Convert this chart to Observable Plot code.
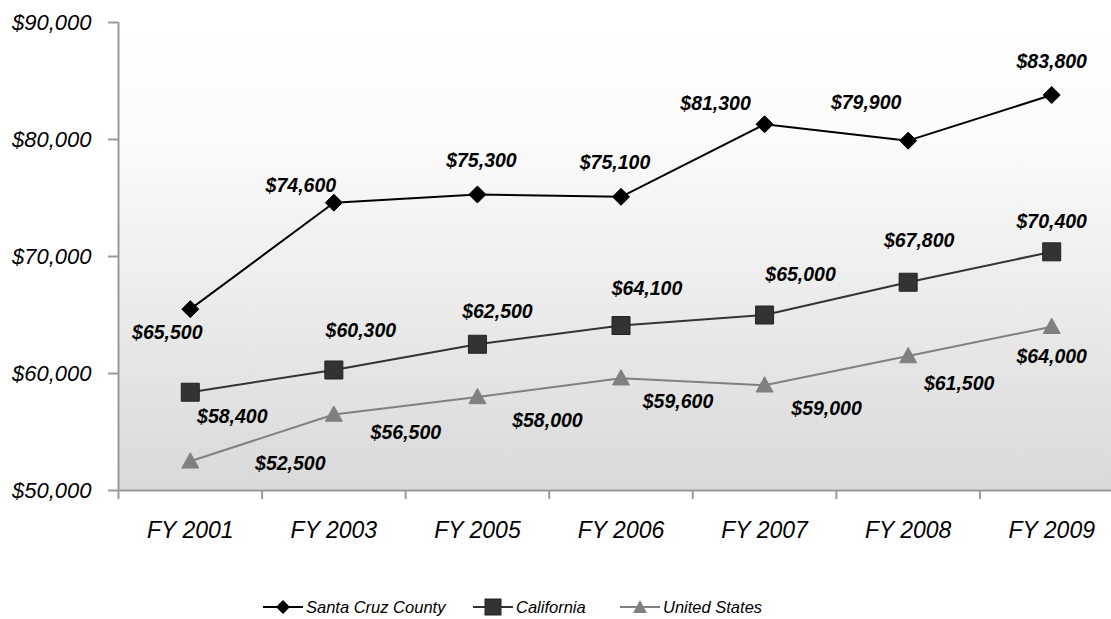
<!DOCTYPE html>
<html><head><meta charset="utf-8">
<script src="https://cdn.jsdelivr.net/npm/d3@7"></script>
<script src="https://cdn.jsdelivr.net/npm/@observablehq/plot@0.6"></script>
<style>
body{margin:0;background:#fff;font-family:"Liberation Sans",Arial,sans-serif;position:relative;width:1111px;height:619px;overflow:hidden;}
#chart{position:absolute;left:0;top:0;}
.lg{position:absolute;top:596px;height:22px;display:flex;align-items:center;font-style:italic;font-size:16.5px;color:#000;}
.lg svg{margin-right:3px;}
</style></head><body><div id="chart"></div><div id="legend"></div>
<script>
// ---- data ----
const years = ["FY 2001", "FY 2003", "FY 2005", "FY 2006", "FY 2007", "FY 2008", "FY 2009"];
const santaCruz = [65500, 74600, 75300, 75100, 81300, 79900, 83800];
const california = [58400, 60300, 62500, 64100, 65000, 67800, 70400];
const unitedStates = [52500, 56500, 58000, 59600, 59000, 61500, 64000];
const seriesNames = ["Santa Cruz County", "California", "United States"];
const yTicks = [50000, 60000, 70000, 80000, 90000];

// ---- label placement (style) ----
const labelDx = [
  [-23, -33, 4, -6, -49, -42, 0],
  [42, 27, 20, 26, 36, 11, 0],
  [100, 72, 70, 57, 62, 51, 0]
];
const labelDy = [
  [24, -17, -34, -34, -21, -38, -33],
  [25, -39, -33, -37, -40, -41, -30],
  [2, 18, 24, 24, 24, 28, 30]
];
const colors = ["#000000", "#333333", "#808080"];
const outlines = ["#000000", "#222222", "#808080"];

// custom symbols
const diamondSym = {draw(c, size) { const h = Math.sqrt(size / Math.PI); c.moveTo(0, -h); c.lineTo(h, 0); c.lineTo(0, h); c.lineTo(-h, 0); c.closePath(); }};
const squareSym = {draw(c, size) { const h = Math.sqrt(size / Math.PI); c.moveTo(-h, -h); c.lineTo(h, -h); c.lineTo(h, h); c.lineTo(-h, h); c.closePath(); }};
const triSym = {draw(c, size) { const h = Math.sqrt(size / Math.PI); c.moveTo(0, -h); c.lineTo(h, h * 0.8); c.lineTo(-h, h * 0.8); c.closePath(); }};
const symbols = [diamondSym, squareSym, triSym];
const radii = [8.5, 9, 8.5];

const allSeries = [santaCruz, california, unitedStates];
const rows = [];
allSeries.forEach((vals, s) => vals.forEach((v, i) => rows.push({s, i, name: seriesNames[s], value: v})));

const fmt = d => "$" + d3.format(",")(d);
const boundaries = d3.range(years.length + 1).map(k => k - 0.5);
const FF = "Liberation Sans, Arial, sans-serif";

const marks = [
  Plot.rect([0], {x1: -0.5, x2: years.length - 0.5, y1: 50000, y2: 90000, fill: "url(#bgGrad)"}),
  Plot.ruleY([50000], {stroke: "#9a9a9a", strokeWidth: 2}),
  Plot.ruleX([-0.5], {y1: 50000, y2: 90000, stroke: "#9a9a9a", strokeWidth: 2}),
  Plot.axisY({ticks: yTicks, label: null, tickSize: 10, tickPadding: 17, tickFormat: fmt, stroke: "#9a9a9a", strokeWidth: 2, fill: "#000", fontSize: 22, fontStyle: "italic", fontFamily: FF}),
  Plot.axisX({ticks: boundaries, label: null, tickSize: 9, tickFormat: () => "", stroke: "#9a9a9a", strokeWidth: 2}),
  Plot.axisX({ticks: d3.range(years.length), label: null, tickSize: 0, tickPadding: 31, tickFormat: i => years[i], fill: "#000", fontSize: 23, fontStyle: "italic", fontFamily: FF})
];
[2, 1, 0].forEach(s => {
  const data = rows.filter(r => r.s === s);
  marks.push(Plot.line(data, {x: "i", y: "value", stroke: colors[s], strokeWidth: 2}));
  marks.push(Plot.dot(data, {x: "i", y: "value", symbol: () => symbols[s], r: radii[s], fill: colors[s], stroke: outlines[s], strokeWidth: 1}));
});
rows.forEach(r => {
  marks.push(Plot.text([r], {x: "i", y: "value", text: d => fmt(d.value), dx: labelDx[r.s][r.i], dy: labelDy[r.s][r.i], fill: "#000", fontSize: 19.5, fontWeight: "bold", fontStyle: "italic", fontFamily: FF, textAnchor: "middle", lineAnchor: "middle"}));
});

const chart = Plot.plot({
  width: 1111,
  height: 590,
  marginLeft: 118,
  marginRight: -12,
  marginTop: 22,
  marginBottom: 100,
  style: {fontFamily: FF, overflow: "hidden", background: "#fff"},
  x: {type: "linear", domain: [-0.5, years.length - 0.5], range: [118, 1123], axis: null},
  y: {domain: [50000, 90000], range: [490, 22], axis: null},
  symbol: {type: "identity"},
  marks
});
const defs = document.createElementNS("http://www.w3.org/2000/svg", "defs");
defs.innerHTML = '<linearGradient id="bgGrad" x1="0" y1="0" x2="0" y2="1"><stop offset="0" stop-color="#ffffff"/><stop offset="0.25" stop-color="#fbfbfb"/><stop offset="1" stop-color="#d9d9d9"/></linearGradient>';
chart.insertBefore(defs, chart.firstChild);
document.getElementById("chart").appendChild(chart);

// legend
const legendLeft = [263, 473, 620];
const lg = document.getElementById("legend");
seriesNames.forEach((name, s) => {
  const item = document.createElement("div");
  item.className = "lg";
  item.style.left = legendLeft[s] + "px";
  const shape = s === 0 ? '<path d="M20,4 L27,11 L20,18 L13,11Z" fill="#000"/>'
    : s === 1 ? '<rect x="12" y="3" width="16" height="16" fill="#333" stroke="#222"/>'
    : '<path d="M20,4 L27,17 L13,17Z" fill="#808080"/>';
  item.innerHTML = '<svg width="40" height="22"><line x1="0" x2="40" y1="11" y2="11" stroke="' + colors[s] + '" stroke-width="2"/>' + shape + '</svg><span>' + name + '</span>';
  lg.appendChild(item);
});
</script>
</body></html>
